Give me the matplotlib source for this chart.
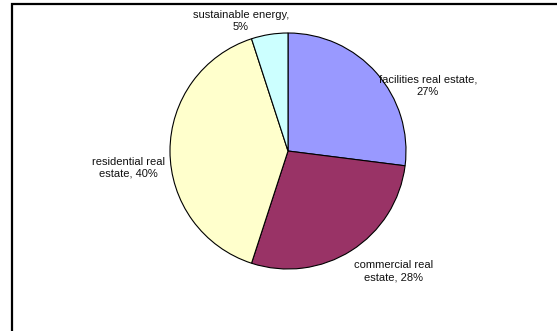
import matplotlib.pyplot as plt
from matplotlib.lines import Line2D

labels = ['facilities real estate,\n27%', 'commercial real\nestate, 28%',
          'residential real\nestate, 40%', 'sustainable energy,\n5%']
shares = [27, 28, 40, 5]
colors = ['#9999FF', '#993366', '#FFFFCC', '#CCFFFF']
# label centres in pixel coords (x, y from top)
label_pos = [(428, 86), (394, 271), (128, 168), (241, 21)]

W, H = 557, 331
fig = plt.figure(figsize=(W / 100, H / 100), dpi=100)
ax = fig.add_axes([0, 0, 1, 1])

wedges, _ = ax.pie(shares, colors=colors, startangle=90, counterclock=False,
                   center=(288, H - 151), radius=118,
                   wedgeprops=dict(edgecolor='black', linewidth=0.8))

for txt, (x, y) in zip(labels, label_pos):
    ax.text(x, H - y, txt, ha='center', va='center', fontsize=8,
            family='Liberation Sans', color='#111111', linespacing=1.25)

ax.set_aspect('auto')
ax.set_xlim(0, W)
ax.set_ylim(0, H)
ax.axis('off')

# chart frame: only the top and left edges are visible
fx = [11.5 / W, 11.5 / W, 1.05]
fy = [-0.05, 1 - 3.5 / H, 1 - 3.5 / H]
fig.add_artist(Line2D(fx, fy, transform=fig.transFigure, color='black',
                      lw=1.6, solid_joinstyle='miter'))

fig.savefig('out.png', dpi=100)
